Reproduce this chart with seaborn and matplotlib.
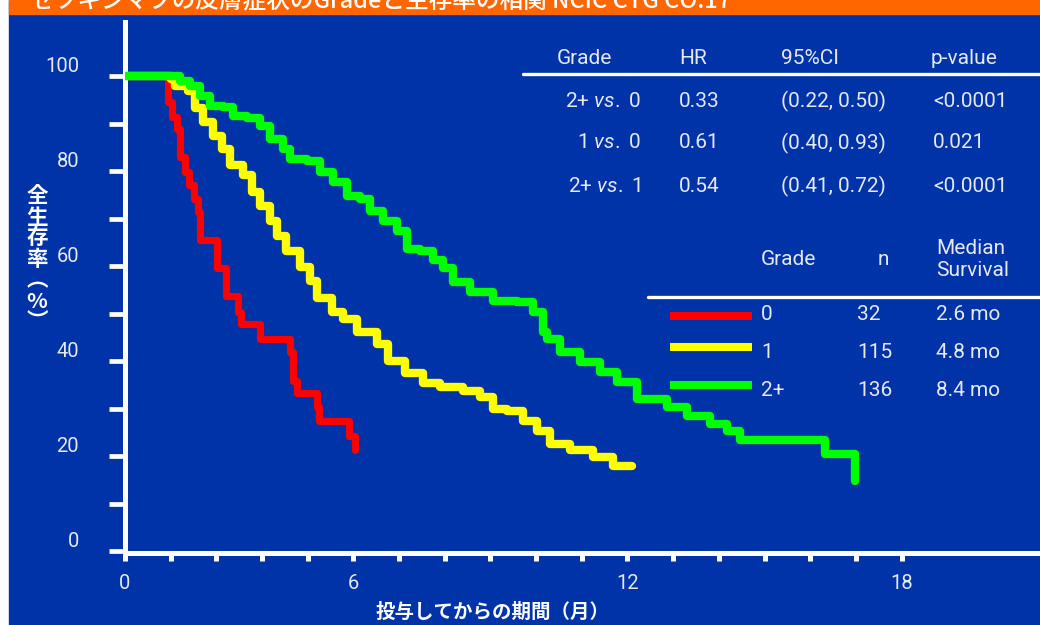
import matplotlib
matplotlib.use("Agg")
import pandas as pd
import matplotlib.pyplot as plt
import seaborn as sns
from matplotlib.patches import Rectangle
from matplotlib.lines import Line2D

# data (months, % surviving)
grade_labels = ["0", "1", "2+"]
grade_colors = ["#ff0000", "#ffff00", "#00ff00"]

red_months = [0, 0.94, 1.03, 1.14, 1.20, 1.31, 1.40, 1.51, 1.60, 1.64, 2.01, 2.21,
              2.47, 2.54, 2.96, 3.61, 3.67, 3.76, 4.20, 4.25, 4.90, 5.04]
red_surv = [100, 94.6, 91.4, 88.9, 83.0, 79.9, 77.0, 74.2, 71.4, 65.4, 59.5, 53.8,
            50.4, 47.9, 44.7, 42.0, 35.9, 33.2, 30.4, 27.3, 24.3, 21.2]

yellow_months = [0, 1.00, 1.09, 1.38, 1.53, 1.71, 1.93, 2.12, 2.30, 2.58, 2.78, 2.96,
                 3.17, 3.33, 3.53, 3.83, 4.05, 4.20, 4.53, 4.77, 5.08, 5.52, 5.76,
                 6.13, 6.53, 6.90, 7.40, 7.77, 8.06, 8.36, 8.71, 9.02, 9.31, 9.74,
                 10.25, 10.69, 11.10]
yellow_surv = [100, 99.5, 98.0, 96.8, 93.2, 90.4, 87.5, 84.7, 81.2, 79.1, 75.7, 72.7,
               69.4, 66.4, 63.1, 59.9, 56.9, 53.2, 50.4, 48.9, 46.2, 43.7, 40.1,
               37.4, 35.3, 34.6, 33.8, 32.5, 30.0, 29.4, 27.3, 25.2, 22.6, 21.2,
               19.9, 18.0, 18.0]

green_months = [0, 1.20, 1.42, 1.64, 1.86, 2.15, 2.36, 2.67, 2.96, 3.18, 3.46, 3.61,
                3.99, 4.27, 4.55, 4.86, 5.15, 5.36, 5.65, 5.96, 6.17, 6.46, 6.74,
                6.96, 7.18, 7.55, 8.06, 8.58, 8.93, 9.15, 9.24, 9.52, 9.96, 10.40,
                10.77, 11.21, 11.87, 12.31, 12.81, 13.18, 13.47, 15.33, 15.98]
green_surv = [100, 99.0, 98.0, 95.9, 93.8, 93.6, 91.7, 91.1, 89.6, 86.8, 84.7, 82.6,
              82.2, 79.9, 77.8, 74.8, 74.2, 71.5, 69.4, 67.3, 63.7, 63.1, 61.2,
              59.5, 56.7, 54.6, 52.7, 52.5, 50.4, 46.2, 44.7, 42.0, 39.9, 37.8,
              35.7, 32.1, 30.4, 28.5, 26.8, 25.2, 23.3, 20.5, 14.8]

x_tick_pos = [0, 5, 11, 17]
x_tick_text = ["0", "6", "12", "18"]
y_tick_text = ["0", "20", "40", "60", "80", "100"]

hr_header = ["Grade", "HR", "95%CI", "p-value"]
hr_compare = ["2+ $\\mathit{vs.}$ 0", "1 $\\mathit{vs.}$ 0", "2+ $\\mathit{vs.}$ 1"]
hr_values = ["0.33", "0.61", "0.54"]
hr_ci = ["(0.22, 0.50)", "(0.40, 0.93)", "(0.41, 0.72)"]
hr_p = ["<0.0001", "0.021", "<0.0001"]

n_values = ["32", "115", "136"]
median_values = ["2.6 mo", "4.8 mo", "8.4 mo"]

title = "セツキシマブの皮膚症状のGradeと生存率の相関 NCIC CTG CO.17"
x_title = "投与してからの期間（月）"
y_title = "全\n生\n存\n率\n︵\n%\n︶"

BLUE = "#0033a8"
ORANGE = "#ff6600"
LIGHT = "#e4e9f2"

sns.set_theme(style="white")
plt.rcParams["font.family"] = ["Roboto", "Noto Sans CJK JP", "DejaVu Sans"]
plt.rcParams["mathtext.fontset"] = "custom"
plt.rcParams["mathtext.it"] = "Roboto:italic"
plt.rcParams["mathtext.rm"] = "Roboto"

W, H = 1040, 625
def fx(x):
    return x / W
def fy(y):
    return 1 - y / H

fig = plt.figure(figsize=(10.4, 6.25), dpi=100, facecolor="white")
fig.patches.append(Rectangle((fx(9), 0), 1 - fx(9), 1, transform=fig.transFigure,
                             color=BLUE, zorder=-3))
fig.patches.append(Rectangle((fx(9), fy(14)), 1 - fx(9), 14 / H, transform=fig.transFigure,
                             color=ORANGE, zorder=-2))
fig.text(fx(30), fy(1), title, color="white", fontsize=17, fontweight="medium",
         ha="left", va="center", family=["Noto Sans CJK JP", "DejaVu Sans"])

ax = fig.add_axes([fx(125), fy(552.5), (W - 125) / W, (552.5 - 22) / H])
ax.patch.set_alpha(0)

# build the curve table
frames = []
for g, m, s in zip(grade_labels, [red_months, yellow_months, green_months],
                   [red_surv, yellow_surv, green_surv]):
    frames.append(pd.DataFrame({"grade": g, "month": m, "surv": s}))
df = pd.concat(frames, ignore_index=True)

sns.lineplot(data=df, x="month", y="surv", hue="grade", hue_order=grade_labels,
             palette=grade_colors, estimator=None, sort=False, drawstyle="steps-post",
             linewidth=6, legend=False, ax=ax, zorder=3)
ax.lines[0].set_solid_capstyle("round")
ax.lines[0].set_linewidth(5.2)

ax.set_xlim(0, 20.03)
ax.set_ylim(-0.3, 111.4)
ax.set_xlabel("")
ax.set_ylabel("")
ax.grid(False)
for side in ["top", "right"]:
    ax.spines[side].set_visible(False)
for side in ["left", "bottom"]:
    ax.spines[side].set_color("white")
    ax.spines[side].set_linewidth(3.6)

ax.set_xticks(range(18))
ax.set_xticklabels([x_tick_text[x_tick_pos.index(i)] if i in x_tick_pos else "" for i in range(18)])
ax.set_yticks(range(0, 101, 10))
ax.set_yticklabels([y_tick_text[i // 2] if i % 2 == 0 else "" for i in range(11)])
ax.tick_params(axis="x", bottom=True, length=6, width=3.6, color="white", labelcolor=LIGHT,
               labelsize=14.5, pad=9.5, direction="out")
ax.tick_params(axis="y", left=True, length=11.5, width=3.4, color="white", labelcolor=LIGHT,
               labelsize=14.5, pad=21.5, direction="out")
for lbl in ax.get_yticklabels():
    lbl.set_va("bottom")

fig.text(fx(493), fy(612), x_title, color="white", fontsize=14, fontweight="bold",
         ha="center", va="center", family=["Noto Sans CJK JP", "DejaVu Sans"])
fig.text(fx(37), fy(259), y_title, color="white", fontsize=15.5, fontweight="bold",
         ha="center", va="center", linespacing=1.0, family=["Noto Sans CJK JP", "DejaVu Sans"])

# hazard ratio table
ts = dict(color=LIGHT, fontsize=15, va="center")
fig.text(fx(584), fy(58), hr_header[0], ha="center", **ts)
fig.text(fx(679), fy(58), hr_header[1], ha="left", **ts)
fig.text(fx(781), fy(58), hr_header[2], ha="left", **ts)
fig.text(fx(931), fy(58), hr_header[3], ha="left", **ts)
fig.add_artist(Line2D([fx(523), 1], [fy(74), fy(74)], transform=fig.transFigure,
                      color="white", linewidth=2.4))
for i, yy in enumerate([101.7, 143, 186.7]):
    fig.text(fx(641), fy(yy), hr_compare[i], ha="right", **ts)
    fig.text(fx(679), fy(yy), hr_values[i], ha="left", **ts)
    fig.text(fx(781), fy(yy), hr_ci[i], ha="left", **ts)
    fig.text(fx(933), fy(yy), hr_p[i], ha="left", **ts)

# grade legend table
fig.text(fx(761), fy(260), "Grade", ha="left", **ts)
fig.text(fx(883), fy(260), "n", ha="center", **ts)
fig.text(fx(936), fy(260), "Median\nSurvival", ha="left", linespacing=1.2, **ts)
fig.add_artist(Line2D([fx(648), 1], [fy(297), fy(297)], transform=fig.transFigure,
                      color="white", linewidth=2.4))
for i, (yy, sy) in enumerate(zip([314, 352.5, 391], [316, 347, 385])):
    fig.add_artist(Line2D([fx(670), fx(752)], [fy(sy), fy(sy)], transform=fig.transFigure,
                          color=grade_colors[i], linewidth=5.8, solid_capstyle="butt"))
    fig.text(fx(761), fy(yy), grade_labels[i], ha="left", **ts)
    fig.text(fx(857), fy(yy), n_values[i], ha="left", **ts)
    fig.text(fx(936), fy(yy), median_values[i], ha="left", **ts)

plt.savefig("out.png", dpi=100, facecolor=fig.get_facecolor())
